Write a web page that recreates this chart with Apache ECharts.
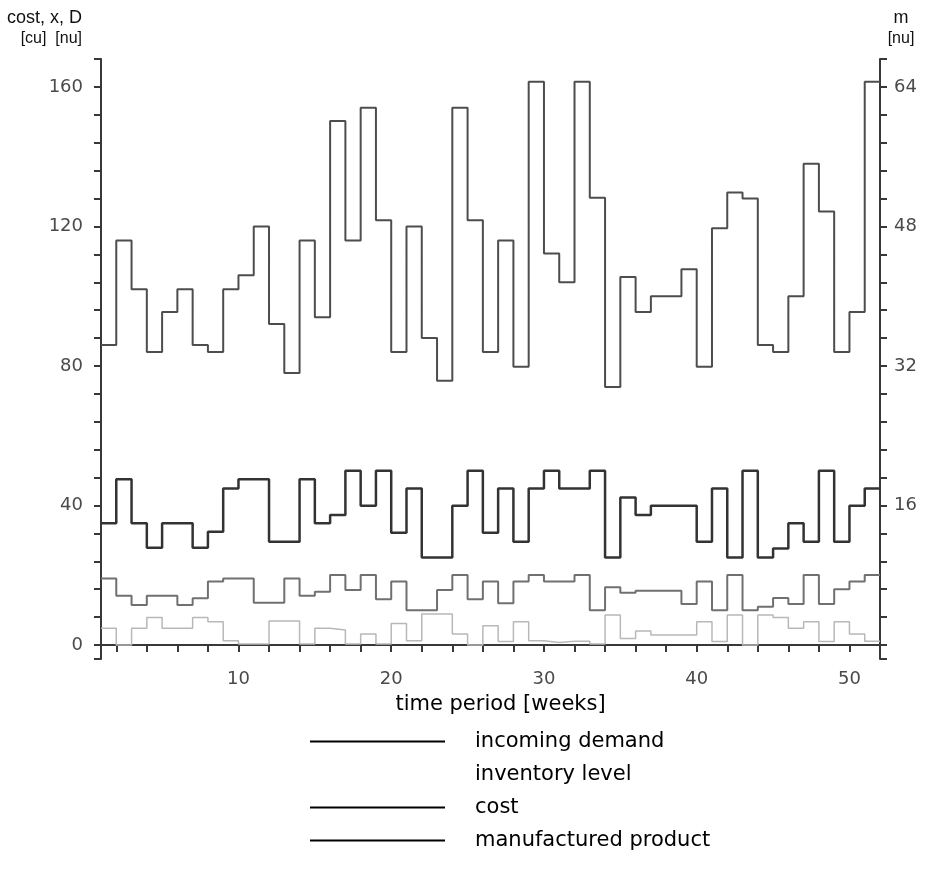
<!DOCTYPE html>
<html>
<head>
<meta charset="utf-8">
<script src="https://cdn.jsdelivr.net/npm/echarts@6/dist/echarts.min.js"></script>
<style>
  body { margin: 0; background: #fff; }
  #main { width: 933px; height: 873px; }
</style>
</head>
<body>
<div id="main"></div>
<script>
// weeks 1..52, one value per week (held until the next week)
var weeks = [1,2,3,4,5,6,7,8,9,10,11,12,13,14,15,16,17,18,19,20,21,22,23,24,25,26,
  27,28,29,30,31,32,33,34,35,36,37,38,39,40,41,42,43,44,45,46,47,48,49,50,51,52]

// incoming demand D [nu], left axis
var demand = [34.9,47.5,34.9,27.9,34.9,34.9,27.9,32.5,44.9,47.5,47.5,29.6,29.6,47.5,34.9,37.3,
  50,39.9,50,32.2,44.9,25.1,25.1,39.9,50,32.2,44.9,29.6,44.9,50,44.9,44.9,50,25.1,42.3,37.3,
  39.9,39.9,39.9,29.6,44.9,25.1,50,25.1,27.7,34.9,29.6,50,29.6,39.9,44.9,44.9]

// inventory level x [nu], left axis
var inventory = [4.8,0,4.8,7.9,4.8,4.8,7.9,6.7,1.2,0.3,0.3,6.9,6.9,0.3,4.8,4.3,0.3,3.2,0.3,6.2,
  1.2,8.9,8.9,3.2,0,5.5,1.0,6.7,1.2,0.7,1.1,1.1,0.3,8.6,1.9,4.0,2.9,2.9,2.9,6.7,1.0,8.6,0,
  8.6,7.9,4.8,6.7,1.0,6.7,3.2,1.1,1.1]

// cost [cu], left axis
var cost = [19.1,14.1,11.5,14.1,14.1,11.5,13.4,18.2,19.1,19.1,12.1,12.1,19.1,14.1,15.3,20.1,
  15.8,20.1,13.1,18.2,10.0,10.0,15.8,20.1,13.1,18.2,12.0,18.2,20.1,18.2,18.2,20.1,10.0,16.6,
  15.0,15.6,15.6,15.6,11.8,18.2,10.0,20.1,10.0,11.0,13.5,11.8,20.1,11.8,16.0,18.2,20.1,20.1]

// manufactured product m [nu], right axis
var manufactured = [34.4,46.4,40.8,33.6,38.2,40.8,34.4,33.6,40.8,42.4,48.0,36.8,31.2,46.4,37.6,
  60.1,46.4,61.6,48.7,33.6,48.0,35.2,30.3,61.6,48.7,33.6,46.4,31.9,64.6,44.9,41.6,64.6,51.3,
  29.6,42.2,38.2,40.0,40.0,43.1,31.9,47.8,51.9,51.2,34.4,33.6,40.0,55.2,49.7,33.6,38.2,64.6,64.6]

// axis ticks and labels
var xTicks = [2,4,6,8,10,12,14,16,18,20,22,24,26,28,30,32,34,36,38,40,42,44,46,48,50,52]
var xLabels = [10,20,30,40,50]
var leftTicks = [-4,0,8,16,24,32,40,48,56,64,72,80,88,96,104,112,120,128,136,144,152,160,168]
var leftLabels = [0,40,80,120,160]
var rightTicks = [-1.6,0,3.2,6.4,9.6,12.8,16,19.2,22.4,25.6,28.8,32,35.2,38.4,41.6,44.8,48,
  51.2,54.4,57.6,60.8,64,67.2]
var rightLabels = [16,32,48,64]

function pairs(vals) {
  return weeks.map(function (w, i) { return [w, vals[i]] })
}

var myChart = echarts.init(document.getElementById('main'))

var axisColor = '#383838'
var labelFont = { color: '#4a4a4a', fontFamily: 'DejaVu Sans', fontSize: 18 }
var nameRich = {
  a: { fontFamily: 'Liberation Sans', fontSize: 18, color: '#111', lineHeight: 21 },
  b: { fontFamily: 'Liberation Sans', fontSize: 16, color: '#111', lineHeight: 20 }
}

var option = {
  animation: false,
  backgroundColor: '#fff',
  grid: { left: 101, right: 53, top: 59, bottom: 214 },
  legend: {
    orient: 'vertical',
    left: 310,
    top: 731,
    padding: 0,
    itemWidth: 135,
    itemHeight: 2,
    itemGap: 12,
    icon: 'rect',
    selectedMode: false,
    textStyle: { color: '#000', fontFamily: 'DejaVu Sans', fontSize: 21, padding: [0, 0, 0, 25] },
    data: [
      { name: 'incoming demand', itemStyle: { color: '#000' } },
      { name: 'inventory level', itemStyle: { color: '#fff' } },
      { name: 'cost', itemStyle: { color: '#000' } },
      { name: 'manufactured product', itemStyle: { color: '#000' } }
    ]
  },
  xAxis: {
    type: 'value',
    min: 1,
    max: 52,
    name: 'time period [weeks]',
    nameLocation: 'middle',
    nameGap: 35,
    nameTextStyle: { color: '#000', fontFamily: 'DejaVu Sans', fontSize: 21, padding: [0, 0, 0, 20] },
    splitLine: { show: false },
    axisLine: { onZero: true, lineStyle: { color: axisColor, width: 2 } },
    axisTick: { customValues: xTicks, length: 7, lineStyle: { color: axisColor, width: 2 } },
    axisLabel: Object.assign({ customValues: xLabels, margin: 11 }, labelFont)
  },
  yAxis: [
    {
      type: 'value',
      min: -4,
      max: 168,
      name: '{a|cost, x, D}\n{b|[cu]  [nu]}',
      nameLocation: 'end',
      nameGap: 10,
      nameTextStyle: {
        align: 'right',
        verticalAlign: 'bottom',
        padding: [0, 19, 0, 0],
        rich: nameRich
      },
      splitLine: { show: false },
      axisLine: { show: true, onZero: false, lineStyle: { color: axisColor, width: 2 } },
      axisTick: { customValues: leftTicks, length: 7, lineStyle: { color: axisColor, width: 2 } },
      axisLabel: Object.assign({ customValues: leftLabels, margin: 18 }, labelFont)
    },
    {
      type: 'value',
      min: -1.6,
      max: 67.2,
      position: 'right',
      name: '{a|m}\n{b|[nu]}',
      nameLocation: 'end',
      nameGap: 10,
      nameTextStyle: {
        align: 'center',
        verticalAlign: 'bottom',
        padding: [0, 0, 0, 42],
        rich: nameRich
      },
      splitLine: { show: false },
      axisLine: { show: true, onZero: false, lineStyle: { color: axisColor, width: 2 } },
      axisTick: { customValues: rightTicks, length: 7, lineStyle: { color: axisColor, width: 2 } },
      axisLabel: Object.assign({ customValues: rightLabels, margin: 14 }, labelFont)
    }
  ],
  series: [
    {
      name: 'incoming demand',
      type: 'line',
      step: 'end',
      yAxisIndex: 0,
      symbol: 'none',
      lineStyle: { color: '#333', width: 2.5 },
      itemStyle: { color: '#333' },
      data: pairs(demand)
    },
    {
      name: 'inventory level',
      type: 'line',
      step: 'end',
      yAxisIndex: 0,
      symbol: 'none',
      lineStyle: { color: '#b8b8b8', width: 1.5 },
      itemStyle: { color: '#b8b8b8' },
      data: pairs(inventory)
    },
    {
      name: 'cost',
      type: 'line',
      step: 'end',
      yAxisIndex: 0,
      symbol: 'none',
      lineStyle: { color: '#707070', width: 2 },
      itemStyle: { color: '#707070' },
      data: pairs(cost)
    },
    {
      name: 'manufactured product',
      type: 'line',
      step: 'end',
      yAxisIndex: 1,
      symbol: 'none',
      lineStyle: { color: '#4d4d4d', width: 2 },
      itemStyle: { color: '#4d4d4d' },
      data: pairs(manufactured)
    }
  ]
}

myChart.setOption(option)
</script>
</body>
</html>
